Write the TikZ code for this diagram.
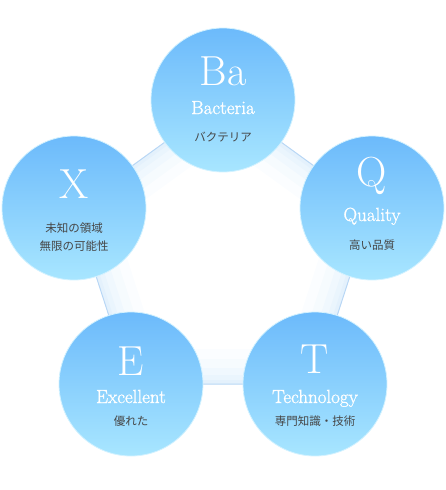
\documentclass[tikz,border=0pt]{standalone}
\usepackage{fontspec}
\newfontfamily\jpfont{Noto Sans CJK JP}
\newfontfamily\titlefont{Latin Modern Roman}[FakeBold=1.2]
\usetikzlibrary{backgrounds}

\definecolor{circtop}{RGB}{108,186,251}
\definecolor{circbot}{RGB}{168,230,255}
\definecolor{edgeblue}{RGB}{185,215,245}
\definecolor{glowblue}{RGB}{205,230,250}
\definecolor{jpgray}{RGB}{70,70,70}

\begin{document}
\begin{tikzpicture}[
  x=1pt, y=-1pt,
  bubble/.style={circle, minimum size=144pt, inner sep=0pt, top color=circtop, bottom color=circbot, draw=circbot!50!white, line width=0.8pt},
  letter/.style={anchor=base, text=white, font=\fontsize{42}{42}\selectfont},
  title/.style={anchor=base, text=white, font=\titlefont\fontsize{19}{19}\selectfont},
  jp/.style={text=jpgray, font=\jpfont\fontsize{11.5}{18}\selectfont, align=center}
  ]
  \useasboundingbox (0,0) rectangle (445,490);

  % the five circles, corners of a regular pentagon
  \node[bubble] (ba) at (223,100) {};
  \node[bubble] (q) at (372,208) {};
  \node[bubble] (t) at (315,384) {};
  \node[bubble] (e) at (131,384) {};
  \node[bubble] (x) at (74,208) {};

  % pentagon behind, with a soft glow along its edges
  \begin{scope}[on background layer]
    \begin{scope}
      \clip (ba.center) -- (q.center) -- (t.center) -- (e.center) -- (x.center) -- cycle;
      \foreach \w/\o in {70/0.08, 50/0.1, 32/0.14, 18/0.18, 8/0.22}
        \draw[line width=\w pt, glowblue, opacity=\o, line join=round]
          (ba.center) -- (q.center) -- (t.center) -- (e.center) -- (x.center) -- cycle;
    \end{scope}
    \draw[edgeblue, line width=1pt, line join=round]
      (ba.center) -- (q.center) -- (t.center) -- (e.center) -- (x.center) -- cycle;
  \end{scope}

  % Ba
  \node[letter] (ba-sym) at ([shift={(0,-15)}]ba) {Ba};
  \node[title] (ba-name) at ([shift={(0,14)}]ba) {Bacteria};
  \node[jp] (ba-jp) at ([shift={(0,37)}]ba) {バクテリア};

  % Q
  \node[letter] (q-sym) at ([shift={(0,-22)}]q) {Q};
  \node[title] (q-name) at ([shift={(0,13)}]q) {Quality};
  \node[jp] (q-jp) at ([shift={(0,37)}]q) {高い品質};

  % T
  \node[letter] (t-sym) at ([shift={(0,-11)}]t) {T};
  \node[title] (t-name) at ([shift={(0,19)}]t) {Technology};
  \node[jp] (t-jp) at ([shift={(0,37)}]t) {専門知識・技術};

  % E
  \node[letter] (e-sym) at ([shift={(0,-9)}]e) {E};
  \node[title] (e-name) at ([shift={(0,19)}]e) {Excellent};
  \node[jp] (e-jp) at ([shift={(0,37)}]e) {優れた};

  % X
  \node[letter] (x-sym) at ([shift={(0,-10)}]x) {X};
  \node[jp] (x-jp) at ([shift={(0,29)}]x) {未知の領域\\無限の可能性};

\end{tikzpicture}
\end{document}
